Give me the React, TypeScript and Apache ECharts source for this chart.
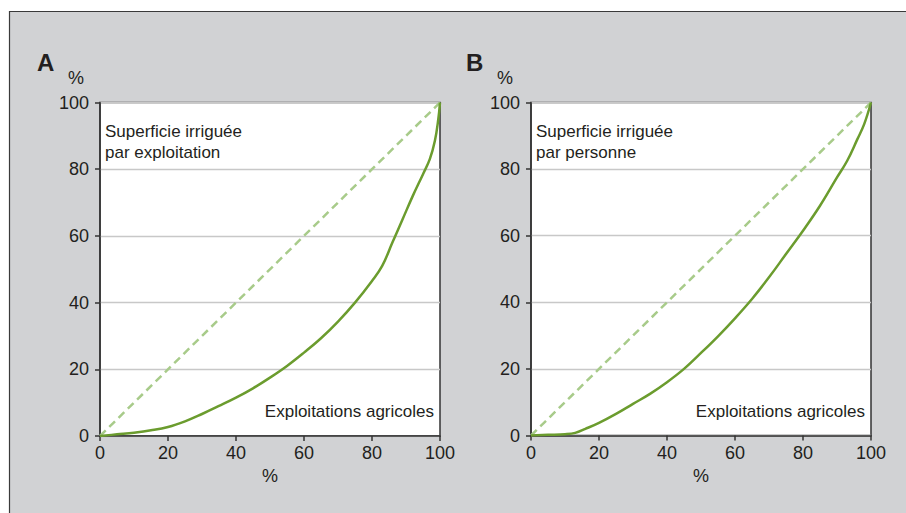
import React, { useEffect, useRef } from "react";
import * as echarts from "echarts";

const xTicks = [0, 20, 40, 60, 80, 100];
const diagonal: [number, number][] = [[0, 0], [100, 100]];

const curveA: [number, number][] = [
  [0, 0], [5, 0.5], [10, 1], [15, 1.7], [20, 2.7], [25, 4.4], [30, 6.6], [35, 9],
  [40, 11.5], [45, 14.3], [50, 17.5], [55, 21], [60, 25], [65, 29.3], [70, 34.3],
  [75, 40], [80, 46.5], [83, 51], [86, 58], [89, 65], [92, 72], [95, 78.5],
  [97, 83], [98.5, 88.5], [99.5, 95], [100, 100],
];

const curveB: [number, number][] = [
  [0, 0], [5, 0.2], [10, 0.4], [13, 0.8], [16, 2], [20, 3.8], [25, 6.5],
  [30, 9.5], [35, 12.5], [40, 16], [45, 20], [50, 24.8], [55, 29.8], [60, 35.2],
  [65, 41], [70, 47.5], [75, 54.5], [80, 61.5], [85, 69], [90, 77.5],
  [93, 82.5], [96, 89], [98, 93.5], [100, 100],
];

const panelLetters = ["A", "B"];
const topLabels = [
  ["Superficie irriguée", "par exploitation"],
  ["Superficie irriguée", "par personne"],
];
const bottomLabel = "Exploitations agricoles";

const FONT = "'Liberation Sans', Arial, Helvetica, sans-serif";
const TXT = "#231f20";
const GREEN = "#6b9c2e";
const LIGHT = "#a8cb8a";

export default function App() {
  const ref = useRef<HTMLDivElement>(null);
  useEffect(() => {
    if (!ref.current) return;
    const chart = echarts.init(ref.current, null, { renderer: "svg" });
    const grids = [
      { left: 100, top: 102.5, width: 340, height: 333.5 },
      { left: 531, top: 102.5, width: 340, height: 333 },
    ];
    const mkX = (i: number) => ({
      type: "value",
      gridIndex: i,
      min: 0,
      max: 100,
      interval: 20,
      name: "%",
      nameLocation: "middle",
      nameGap: 31,
      nameTextStyle: { fontSize: 18, color: TXT, fontFamily: FONT },
      axisLine: { show: true, lineStyle: { color: "#333", width: 1.5 } },
      axisTick: { show: true, length: 5, lineStyle: { color: "#333", width: 1.5 } },
      axisLabel: {
        fontSize: 18, color: TXT, fontFamily: FONT, margin: 8,
        formatter: (v: number) => (xTicks.includes(v) ? String(v) : ""),
      },
      splitLine: { show: false },
    });
    const mkY = (i: number) => ({
      type: "value",
      gridIndex: i,
      min: 0,
      max: 100,
      interval: 20,
      axisLine: { show: true, lineStyle: { color: "#333", width: 1.5 } },
      axisTick: { show: true, length: 5, lineStyle: { color: "#333", width: 1.5 } },
      axisLabel: { fontSize: 18, color: TXT, fontFamily: FONT, margin: 11 },
      splitLine: { show: true, lineStyle: { color: "#c8c8c8", width: 1.3 } },
    });
    const graphics: any[] = [
      {
        type: "rect",
        shape: { x: 9.5, y: 11.5, width: 1000, height: 600 },
        style: { fill: "#d1d2d4", stroke: "#3a3a3a", lineWidth: 1.2 },
        z: -10,
      },
    ];
    grids.forEach((g, i) => {
      const lx = i === 0 ? 37 : 466;
      graphics.push({
        type: "text", x: lx, y: 62,
        style: { text: panelLetters[i], font: `bold 24px ${FONT}`, fill: TXT, verticalAlign: "middle" },
      });
      graphics.push({
        type: "text", x: lx + 31, y: 78,
        style: { text: "%", font: `18px ${FONT}`, fill: TXT, verticalAlign: "middle" },
      });
      graphics.push({
        type: "text", x: g.left + 5, y: 131,
        style: { text: topLabels[i][0], font: `17px ${FONT}`, fill: TXT, verticalAlign: "middle" },
      });
      graphics.push({
        type: "text", x: g.left + 5, y: 152,
        style: { text: topLabels[i][1], font: `17px ${FONT}`, fill: TXT, verticalAlign: "middle" },
      });
      graphics.push({
        type: "text", x: g.left + g.width - 6, y: 411,
        style: { text: bottomLabel, font: `17px ${FONT}`, fill: TXT, align: "right", verticalAlign: "middle" },
      });
    });
    chart.setOption({
      animation: false,
      backgroundColor: "#ffffff",
      grid: grids.map((g) => ({
        ...g,
        show: true,
        backgroundColor: "#ffffff",
        borderColor: "#333",
        borderWidth: 1.5,
      })),
      xAxis: [mkX(0), mkX(1)],
      yAxis: [mkY(0), mkY(1)],
      series: [
        ...[0, 1].map((i) => ({
          type: "line",
          xAxisIndex: i,
          yAxisIndex: i,
          data: diagonal,
          showSymbol: false,
          lineStyle: { color: LIGHT, width: 2.5, type: [8, 5] },
          z: 2,
        })),
        {
          type: "line", xAxisIndex: 0, yAxisIndex: 0, data: curveA,
          showSymbol: false, smooth: 0.4,
          lineStyle: { color: GREEN, width: 2.5 }, z: 3,
        },
        {
          type: "line", xAxisIndex: 1, yAxisIndex: 1, data: curveB,
          showSymbol: false, smooth: 0.4,
          lineStyle: { color: GREEN, width: 2.5 }, z: 3,
        },
      ],
      graphic: graphics,
    });
    return () => chart.dispose();
  }, []);
  return (
    <div
      ref={ref}
      style={{ position: "fixed", left: 0, top: 0, width: 906, height: 513 }}
    />
  );
}
